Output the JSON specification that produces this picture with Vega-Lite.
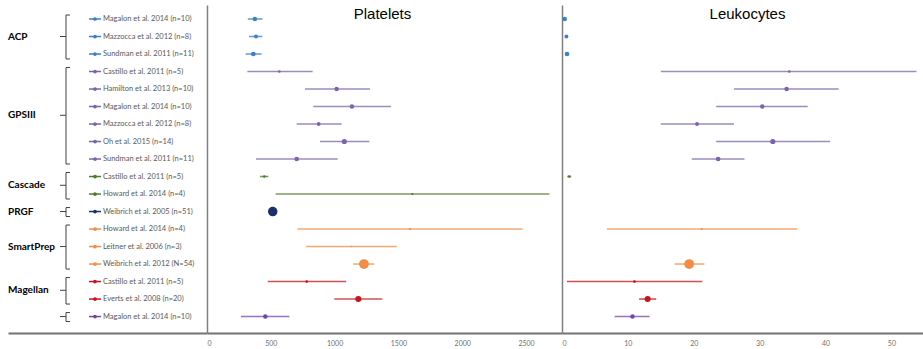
{
  "$schema": "https://vega.github.io/schema/vega-lite/v6.json",
  "padding": {"left": 8, "top": 5, "right": 0, "bottom": 0},
  "background": "white",
  "config": {"view": {"stroke": null}, "concat": {"spacing": 0}},
  "datasets": {
    "studies": [
      {"row": 1, "group": "ACP", "label": "Magalon et al. 2014 (n=10)", "n": 10, "p_low": 320, "p_mean": 375, "p_high": 435, "l_low": 0.3, "l_mean": 0.41, "l_high": 0.5},
      {"row": 2, "group": "ACP", "label": "Mazzocca et al. 2012 (n=8)", "n": 8, "p_low": 329, "p_mean": 384, "p_high": 433, "l_low": 0.6, "l_mean": 0.67, "l_high": 0.75},
      {"row": 3, "group": "ACP", "label": "Sundman et al. 2011 (n=11)", "n": 11, "p_low": 303, "p_mean": 363, "p_high": 428, "l_low": 0.7, "l_mean": 0.76, "l_high": 0.85},
      {"row": 4, "group": "GPSIII", "label": "Castillo et al. 2011 (n=5)", "n": 5, "p_low": 316, "p_mean": 567, "p_high": 828, "l_low": 15.0, "l_mean": 34.5, "l_high": 53.8},
      {"row": 5, "group": "GPSIII", "label": "Hamilton et al. 2013 (n=10)", "n": 10, "p_low": 768, "p_mean": 1016, "p_high": 1277, "l_low": 26.1, "l_mean": 34.1, "l_high": 42.0},
      {"row": 6, "group": "GPSIII", "label": "Magalon et al. 2014 (n=10)", "n": 10, "p_low": 833, "p_mean": 1136, "p_high": 1442, "l_low": 23.4, "l_mean": 30.4, "l_high": 37.3},
      {"row": 7, "group": "GPSIII", "label": "Mazzocca et al. 2012 (n=8)", "n": 8, "p_low": 703, "p_mean": 875, "p_high": 1055, "l_low": 15.0, "l_mean": 20.5, "l_high": 26.1},
      {"row": 8, "group": "GPSIII", "label": "Oh et al. 2015 (n=14)", "n": 14, "p_low": 886, "p_mean": 1076, "p_high": 1272, "l_low": 23.4, "l_mean": 32.0, "l_high": 40.7},
      {"row": 9, "group": "GPSIII", "label": "Sundman et al. 2011 (n=11)", "n": 11, "p_low": 384, "p_mean": 703, "p_high": 1024, "l_low": 19.7, "l_mean": 23.7, "l_high": 27.7},
      {"row": 10, "group": "Cascade", "label": "Castillo et al. 2011 (n=5)", "n": 5, "p_low": 415, "p_mean": 449, "p_high": 481, "l_low": 0.8, "l_mean": 1.1, "l_high": 1.4},
      {"row": 11, "group": "Cascade", "label": "Howard et al. 2014 (n=4)", "n": 4, "p_low": 538, "p_mean": 1609, "p_high": 2683, "l_low": null, "l_mean": null, "l_high": null},
      {"row": 12, "group": "PRGF", "label": "Weibrich et al. 2005 (n=51)", "n": 51, "p_low": 505, "p_mean": 515, "p_high": 525, "l_low": null, "l_mean": null, "l_high": null},
      {"row": 13, "group": "SmartPrep", "label": "Howard et al. 2014 (n=4)", "n": 4, "p_low": 708, "p_mean": 1591, "p_high": 2474, "l_low": 6.8, "l_mean": 21.2, "l_high": 35.7},
      {"row": 14, "group": "SmartPrep", "label": "Leitner et al. 2006 (n=3)", "n": 3, "p_low": 776, "p_mean": 1129, "p_high": 1487, "l_low": null, "l_mean": null, "l_high": null},
      {"row": 15, "group": "SmartPrep", "label": "Weibrich et al. 2012 (N=54)", "n": 54, "p_low": 1147, "p_mean": 1230, "p_high": 1311, "l_low": 17.1, "l_mean": 19.3, "l_high": 21.6},
      {"row": 16, "group": "Magellan", "label": "Castillo et al. 2011 (n=5)", "n": 5, "p_low": 476, "p_mean": 781, "p_high": 1091, "l_low": 0.76, "l_mean": 11.0, "l_high": 21.3},
      {"row": 17, "group": "Magellan", "label": "Everts et al. 2008 (n=20)", "n": 20, "p_low": 998, "p_mean": 1186, "p_high": 1374, "l_low": 11.7, "l_mean": 13.0, "l_high": 14.3},
      {"row": 18, "group": "Unlabeled", "label": "Magalon et al. 2014 (n=10)", "n": 10, "p_low": 266, "p_mean": 457, "p_high": 645, "l_low": 8.0, "l_mean": 10.7, "l_high": 13.3}
    ],
    "groups": [
      {"group": "ACP", "name": "ACP", "first": 1, "last": 3},
      {"group": "GPSIII", "name": "GPSIII", "first": 4, "last": 9},
      {"group": "Cascade", "name": "Cascade", "first": 10, "last": 11},
      {"group": "PRGF", "name": "PRGF", "first": 12, "last": 12},
      {"group": "SmartPrep", "name": "SmartPrep", "first": 13, "last": 15},
      {"group": "Magellan", "name": "Magellan", "first": 16, "last": 17},
      {"group": "Unlabeled", "name": "", "first": 18, "last": 18}
    ]
  },
  "resolve": {"scale": {"x": "independent"}, "axis": {"x": "independent", "y": "independent"}},
  "hconcat": [
    {
      "width": 199,
      "height": 328,
      "layer": [
        {
          "data": {"name": "groups"},
          "transform": [{"calculate": "(datum.first + datum.last) / 2", "as": "mid"}],
          "layer": [
            {
              "mark": {"type": "text", "font": "Lato", "fontWeight": "bold", "fontSize": 10, "align": "left", "baseline": "middle", "color": "#000000"},
              "encoding": {
                "x": {"datum": 8, "type": "quantitative", "scale": {"domain": [8, 207], "nice": false, "zero": false}, "axis": {"title": null, "labels": false, "ticks": false, "grid": false, "domainColor": "#767171", "domainWidth": 2}},
                "y": {"field": "mid", "type": "quantitative", "scale": {"domain": [0.2, 18.94], "reverse": true, "nice": false, "zero": false}, "axis": null},
                "text": {"field": "name"}
              }
            },
            {
              "mark": {"type": "rule", "color": "#404040", "strokeWidth": 1, "yOffset": -4, "y2Offset": 5},
              "encoding": {
                "x": {"datum": 66, "type": "quantitative"},
                "y": {"field": "first", "type": "quantitative"},
                "y2": {"field": "last"}
              }
            },
            {
              "mark": {"type": "rule", "color": "#404040", "strokeWidth": 1, "yOffset": -4},
              "encoding": {
                "x": {"datum": 66, "type": "quantitative"},
                "x2": {"datum": 70},
                "y": {"field": "first", "type": "quantitative"}
              }
            },
            {
              "mark": {"type": "rule", "color": "#404040", "strokeWidth": 1, "yOffset": 5},
              "encoding": {
                "x": {"datum": 66, "type": "quantitative"},
                "x2": {"datum": 70},
                "y": {"field": "last", "type": "quantitative"}
              }
            },
            {
              "mark": {"type": "rule", "color": "#404040", "strokeWidth": 1},
              "encoding": {
                "x": {"datum": 60, "type": "quantitative"},
                "x2": {"datum": 66},
                "y": {"field": "mid", "type": "quantitative"}
              }
            }
          ]
        },
        {
          "data": {"name": "studies"},
          "layer": [
            {
              "mark": {"type": "rule", "strokeWidth": 1.5},
              "encoding": {
                "x": {"datum": 89, "type": "quantitative"},
                "x2": {"datum": 101},
                "y": {"field": "row", "type": "quantitative"},
                "color": {"field": "group", "type": "nominal", "scale": {"domain": ["ACP", "GPSIII", "Cascade", "PRGF", "SmartPrep", "Magellan", "Unlabeled"], "range": ["#3b7fc8", "#7b64a9", "#507a2c", "#1c2f6b", "#f28d45", "#c8141e", "#7444ad"]}, "legend": null}
              }
            },
            {
              "mark": {"type": "point", "filled": true, "size": 14, "opacity": 1},
              "encoding": {
                "x": {"datum": 95, "type": "quantitative"},
                "y": {"field": "row", "type": "quantitative"},
                "color": {"field": "group", "type": "nominal", "legend": null}
              }
            },
            {
              "mark": {"type": "text", "font": "Lato", "fontSize": 7.5, "align": "left", "baseline": "middle", "color": "#595959"},
              "encoding": {
                "x": {"datum": 103, "type": "quantitative"},
                "y": {"field": "row", "type": "quantitative"},
                "text": {"field": "label"}
              }
            }
          ]
        }
      ]
    },
    {
      "width": 355,
      "height": 328,
      "data": {"name": "studies"},
      "title": {"text": "Platelets", "offset": -17, "fontSize": 15, "font": "Liberation Sans", "fontWeight": "normal", "color": "#000000", "anchor": "middle", "frame": "group", "dx": -2},
      "layer": [
        {
          "mark": {"type": "rule", "strokeWidth": 1.6, "opacity": 0.75},
          "encoding": {
            "x": {"field": "p_low", "type": "quantitative", "scale": {"domain": [0, 2782], "nice": false, "zero": false}, "axis": {"title": null, "values": [0, 500, 1000, 1500, 2000, 2500], "format": "d", "ticks": false, "grid": false, "labelFontSize": 7, "labelFont": "Lato", "labelColor": "#6f6f6f", "labelPadding": 6, "domainColor": "#767171", "domainWidth": 2}},
            "x2": {"field": "p_high"},
            "y": {"field": "row", "type": "quantitative", "scale": {"domain": [0.2, 18.94], "reverse": true, "nice": false, "zero": false}, "axis": {"title": null, "labels": false, "ticks": false, "grid": false, "domainColor": "#7f7f7f", "domainWidth": 1.5}},
            "color": {"field": "group", "type": "nominal", "scale": {"domain": ["ACP", "GPSIII", "Cascade", "PRGF", "SmartPrep", "Magellan", "Unlabeled"], "range": ["#3b7fc8", "#7b64a9", "#507a2c", "#1c2f6b", "#f28d45", "#c8141e", "#7444ad"]}, "legend": null}
          }
        },
        {
          "mark": {"type": "point", "filled": true, "opacity": 1},
          "encoding": {
            "x": {"field": "p_mean", "type": "quantitative"},
            "y": {"field": "row", "type": "quantitative"},
            "size": {"field": "n", "type": "quantitative", "scale": {"domain": [3, 10, 54], "range": [2, 20, 95]}, "legend": null},
            "color": {"field": "group", "type": "nominal", "legend": null}
          }
        }
      ]
    },
    {
      "width": 361,
      "height": 328,
      "data": {"name": "studies"},
      "title": {"text": "Leukocytes", "offset": -17, "fontSize": 15, "font": "Liberation Sans", "fontWeight": "normal", "color": "#000000", "anchor": "middle", "frame": "group", "dx": 5},
      "layer": [
        {
          "mark": {"type": "rule", "strokeWidth": 1.6, "opacity": 0.75},
          "encoding": {
            "x": {"field": "l_low", "type": "quantitative", "scale": {"domain": [0, 54.8], "nice": false, "zero": false}, "axis": {"title": null, "values": [0, 10, 20, 30, 40, 50], "format": "d", "ticks": false, "grid": false, "labelFontSize": 7, "labelFont": "Lato", "labelColor": "#6f6f6f", "labelPadding": 6, "domainColor": "#767171", "domainWidth": 2}},
            "x2": {"field": "l_high"},
            "y": {"field": "row", "type": "quantitative", "scale": {"domain": [0.2, 18.94], "reverse": true, "nice": false, "zero": false}, "axis": {"title": null, "labels": false, "ticks": false, "grid": false, "domainColor": "#7f7f7f", "domainWidth": 1.5}},
            "color": {"field": "group", "type": "nominal", "scale": {"domain": ["ACP", "GPSIII", "Cascade", "PRGF", "SmartPrep", "Magellan", "Unlabeled"], "range": ["#3b7fc8", "#7b64a9", "#507a2c", "#1c2f6b", "#f28d45", "#c8141e", "#7444ad"]}, "legend": null}
          }
        },
        {
          "mark": {"type": "point", "filled": true, "opacity": 1},
          "encoding": {
            "x": {"field": "l_mean", "type": "quantitative"},
            "y": {"field": "row", "type": "quantitative"},
            "size": {"field": "n", "type": "quantitative", "scale": {"domain": [3, 10, 54], "range": [2, 20, 95]}, "legend": null},
            "color": {"field": "group", "type": "nominal", "legend": null}
          }
        }
      ]
    }
  ]
}
